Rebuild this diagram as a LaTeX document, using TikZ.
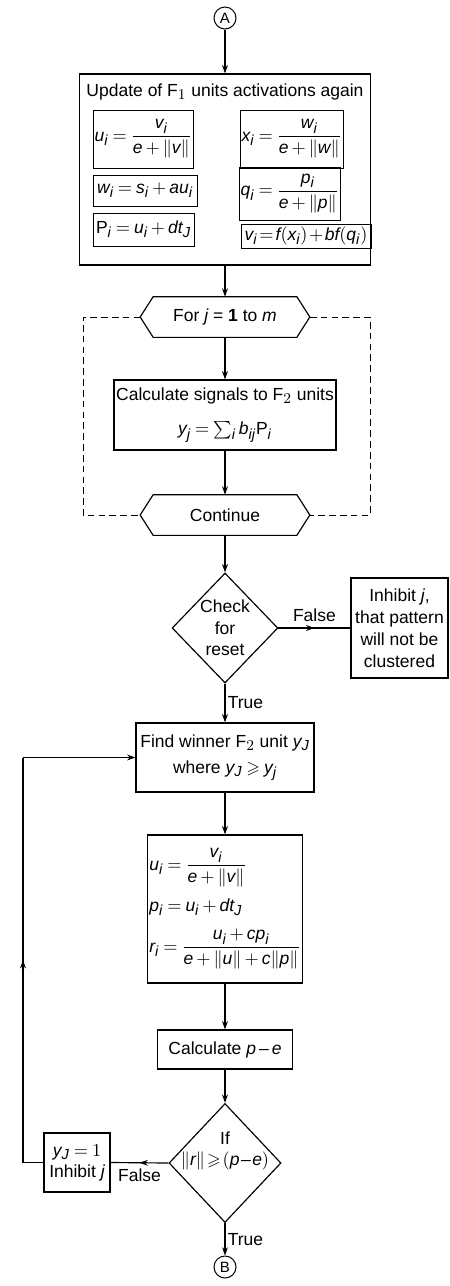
\documentclass[tikz,border=0pt]{standalone}
\usepackage{amsmath,amssymb}
\usepackage{fontspec}
\setmainfont{Liberation Sans}
\usepackage[italic]{mathastext}
\usepackage{tikz}
\usetikzlibrary{shapes.geometric, arrows.meta, positioning, calc, decorations.markings}

\begin{document}
\thickmuskip=4mu plus 1mu
\medmuskip=3mu
\begin{tikzpicture}[x=0.6pt, y=-0.6pt,
    every node/.style={font=\fontsize{10.5}{12.6}\selectfont},
    box/.style={draw, line width=0.7pt, align=center, inner sep=1pt},
    eqbox/.style={draw, line width=0.6pt, inner sep=1pt, anchor=west},
    hexa/.style={minimum width=85.8pt, minimum height=24pt, inner sep=0pt},
    dia/.style={diamond, draw, line width=0.7pt, align=center, inner sep=0pt},
    term/.style={circle, draw, line width=0.6pt, minimum size=13.2pt, inner sep=0pt, font=\fontsize{9}{10}\selectfont},
    lin/.style={line width=0.7pt},
    arr/.style={lin, -{Stealth[length=5pt,width=3.5pt]}},
    midarr/.style={lin, postaction={decorate}, decoration={markings, mark=at position 0.5 with {\arrow{Stealth[length=5pt,width=3.5pt]}}}},
    loopline/.style={line width=0.6pt, dash pattern=on 4pt off 2.5pt},
    tight/.style={execute at begin node={\thickmuskip=2mu\medmuskip=1.5mu}}
]
\useasboundingbox (0,0) rectangle (449,1286);

\node[term] (ca) at (225,18) {A};
\node[box, minimum width=174.6pt, minimum height=114.6pt] (upd) at (225,169.5) {};
\node (updtitle) at (225,92) {Update of F$_1$ units activations again};
\node[eqbox, minimum width=52.8pt, minimum height=34.8pt] (equ) at (92.5,139) {$u_i=\dfrac{v_i}{e+\|v\|}$};
\node[eqbox, minimum width=62.4pt, minimum height=18.6pt] (eqw) at (92.5,190.5) {$w_i=s_i+au_i$};
\node[eqbox, minimum width=60.6pt, minimum height=19.8pt] (eqp) at (92.5,229.5) {$\mathrm{P}_i=u_i+dt_J$};
\node[eqbox, minimum width=55.8pt, minimum height=34.8pt] (eqx) at (239.5,139) {$x_i=\dfrac{w_i}{e+\|w\|}$};
\node[eqbox, minimum width=54.6pt, minimum height=31.8pt] (eqq) at (238.5,193.5) {$q_i=\dfrac{p_i}{e+\|p\|}$};
\node[eqbox, tight, minimum width=78pt, minimum height=14.4pt] (eqv) at (240.5,236) {$v_i=f(x_i)+bf(q_i)$};
\draw[arr] (ca.south) -- (upd.north);

\node[hexa] (forj) at (225,317) {For $j$ = \textbf{1} to $m$};
\draw[lin] (forj.north west) -- (forj.north east) -- ([xshift=7.8pt]forj.east) -- (forj.south east) -- (forj.south west) -- ([xshift=-7.8pt]forj.west) -- cycle;
\draw[arr] (upd.south) -- (forj.north);

\node[box, minimum width=133.2pt, minimum height=42pt] (sig) at (225,415) {Calculate signals to F$_2$ units\\[8pt] $y_j=\textstyle\sum_i b_{ij}\mathrm{P}_i$};
\draw[arr] (forj.south) -- (sig.north);

\node[hexa] (cont) at (225,515) {Continue};
\draw[lin] (cont.north west) -- (cont.north east) -- ([xshift=7.8pt]cont.east) -- (cont.south east) -- (cont.south west) -- ([xshift=-7.8pt]cont.west) -- cycle;
\draw[arr] (sig.south) -- (cont.north);

\coordinate (lpl) at (83,317);
\coordinate (lpr) at (370,317);
\draw[loopline] ([xshift=-7.8pt]forj.west) -- (lpl) |- ([xshift=-7.8pt]cont.west);
\draw[loopline] ([xshift=7.8pt]forj.east) -- (lpr) |- ([xshift=7.8pt]cont.east);

\node[dia, minimum width=61.8pt, minimum height=66pt, font=\fontsize{10.5}{13}\selectfont] (chk) at (225,628) {Check\\for\\reset};
\draw[arr] (cont.south) -- (chk.north);

\node[box, minimum width=58.2pt, minimum height=60pt, font=\fontsize{10.5}{13.2}\selectfont] (inh) at (399.5,628) {Inhibit $j$,\\that pattern\\will not be\\clustered};
\draw[midarr] (chk.east) -- (inh.west) node[midway, above] {False};

\node[box, minimum width=106.8pt, minimum height=41.4pt] (win) at (225,757.5) {Find winner F$_2$ unit $y_J$\\[3pt] where $y_J\geqslant y_j$};
\draw[arr] (chk.south) -- (win.north) node[midway, right, xshift=-2pt] {True};

\node[box, minimum width=86.4pt, minimum height=88.8pt, align=left] (upd2) at (225,909) {$u_i=\dfrac{v_i}{e+\|v\|}$\\[6pt] $p_i=u_i+dt_J$\\[7pt] $r_i=\dfrac{u_i+cp_i}{e+\|u\|+c\|p\|}$};
\draw[arr] (win.south) -- (upd2.north);

\node[box, minimum width=81pt, minimum height=23.4pt] (cpe) at (225,1049.5) {Calculate $p-e$};
\draw[arr] (upd2.south) -- (cpe.north);

\node[dia, minimum width=67.2pt, minimum height=71.4pt] (ifr) at (225,1163) {};
\node[align=center, tight] (ifrtxt) at (225,1151) {If\\$\|r\|\geqslant(p-e)$};
\draw[arr] (cpe.south) -- (ifr.north);

\node[box, minimum width=39.6pt, minimum height=35.4pt] (inhy) at (77,1162.5) {$y_J=1$\\Inhibit $j$};
\draw[midarr] (ifr.west) -- (inhy.east) node[midway, below] {False};

\coordinate (lpx) at (23,0);
\draw[lin] (inhy.west) -- (lpx |- inhy.west);
\draw[midarr] (lpx |- inhy.west) -- (lpx |- win.west);
\draw[arr] (lpx |- win.west) -- (win.west);

\node[term] (cb) at (225,1267) {B};
\draw[arr] (ifr.south) -- (cb.north) node[midway, right, xshift=-2pt] {True};
\end{tikzpicture}
\end{document}
